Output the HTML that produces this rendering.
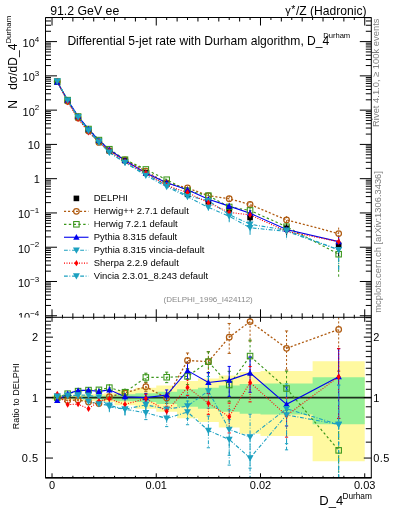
<!DOCTYPE html><html><head><meta charset="utf-8"><style>html,body{margin:0;padding:0;background:#fff;overflow:hidden}svg{display:block;will-change:transform}</style></head><body><svg width="393" height="512" viewBox="0 0 393 512" style="font-family:'Liberation Sans',sans-serif">
<rect width="393" height="512" fill="#fff"/>
<defs><clipPath id="cm"><rect x="45.5" y="17.5" width="325.8" height="299.8"/></clipPath>
<clipPath id="cr"><rect x="45.5" y="317.3" width="325.8" height="160.5"/></clipPath></defs>
<text x="50.2" y="14.8" font-size="12.3">91.2 GeV ee</text>
<text x="366.5" y="14.8" font-size="12.1" text-anchor="end"><tspan font-size="11" dy="-0.8">γ</tspan><tspan font-size="10.5" dy="-0.6" dx="0.6">*</tspan><tspan dy="1.4" dx="0.6">/Z (Hadronic)</tspan></text>
<text x="67.4" y="44.5" font-size="12.1">Differential 5-jet rate with Durham algorithm, D_4</text>
<text x="323.2" y="38.3" font-size="7.6">Durham</text>
<g clip-path="url(#cm)">
<path d="M57.24,81.60 L67.66,101.30 L78.09,118.01 L88.51,131.05 L98.93,142.40 L109.36,150.75 L124.99,159.80 L145.84,171.05 L166.68,183.29 L187.53,187.97 L208.38,195.67 L229.22,198.78 L250.07,204.53 L286.55,219.89 L338.66,233.57" fill="none" stroke="#b05c12" stroke-width="1.3" stroke-dasharray="2.1,1.9"/>
<path d="M57.24,81.60 L67.66,100.13 L78.09,116.50 L88.51,129.02 L98.93,140.08 L109.36,149.20 L124.99,159.68 L145.84,169.46 L166.68,179.72 L187.53,190.68 L208.38,195.67 L229.22,206.96 L250.07,210.41 L286.55,226.75 L338.66,254.21" fill="none" stroke="#3a961a" stroke-width="1.15" stroke-dasharray="2.4,2.4"/>
<path d="M57.24,82.10 L67.66,100.14 L78.09,116.37 L88.51,129.04 L98.93,140.34 L109.36,149.58 L124.99,160.45 L145.84,172.90 L166.68,182.76 L187.53,189.69 L208.38,199.21 L229.22,206.12 L250.07,213.28 L286.55,229.44 L338.66,241.64" fill="none" stroke="#0000ee" stroke-width="1.1"/>
<path d="M57.24,81.38 L67.66,100.45 L78.09,117.16 L88.51,129.93 L98.93,141.28 L109.36,152.47 L124.99,162.59 L145.84,174.14 L166.68,185.17 L187.53,195.75 L208.38,200.65 L229.22,214.56 L250.07,224.24 L286.55,230.20 L338.66,249.78" fill="none" stroke="#1ba0c0" stroke-width="1.1" stroke-dasharray="3.8,1.6,0.9,1.8"/>
<path d="M57.24,80.97 L67.66,101.99 L78.09,118.71 L88.51,132.20 L98.93,142.01 L109.36,151.12 L124.99,161.76 L145.84,173.05 L166.68,185.55 L187.53,192.56 L208.38,202.75 L229.22,212.37 L250.07,214.91 L286.55,231.34 L338.66,241.64" fill="none" stroke="#ff0000" stroke-width="1.1" stroke-dasharray="1,1.5"/>
<path d="M57.24,81.38 L67.66,100.45 L78.09,117.23 L88.51,130.99 L98.93,142.48 L109.36,152.22 L124.99,162.59 L145.84,175.49 L166.68,186.75 L187.53,196.77 L208.38,207.41 L229.22,216.24 L250.07,227.82 L286.55,231.25 L338.66,249.78" fill="none" stroke="#1ba0c0" stroke-width="1.1" stroke-dasharray="3.8,1.6,0.9,1.8"/>
<line x1="145.84" y1="170.12" x2="145.84" y2="172.05" stroke="#b05c12" stroke-width="1" stroke-dasharray="2.1,1.9"/>
<line x1="166.68" y1="182.17" x2="166.68" y2="184.50" stroke="#b05c12" stroke-width="1" stroke-dasharray="2.1,1.9"/>
<line x1="187.53" y1="186.32" x2="187.53" y2="189.82" stroke="#b05c12" stroke-width="1" stroke-dasharray="2.1,1.9"/>
<line x1="208.38" y1="193.51" x2="208.38" y2="198.19" stroke="#b05c12" stroke-width="1" stroke-dasharray="2.1,1.9"/>
<line x1="229.22" y1="195.81" x2="229.22" y2="202.50" stroke="#b05c12" stroke-width="1" stroke-dasharray="2.1,1.9"/>
<line x1="250.07" y1="201.09" x2="250.07" y2="209.01" stroke="#b05c12" stroke-width="1" stroke-dasharray="2.1,1.9"/>
<line x1="286.55" y1="216.14" x2="286.55" y2="224.90" stroke="#b05c12" stroke-width="1" stroke-dasharray="2.1,1.9"/>
<line x1="338.66" y1="227.59" x2="338.66" y2="243.71" stroke="#b05c12" stroke-width="1" stroke-dasharray="2.1,1.9"/>
<line x1="145.84" y1="168.52" x2="145.84" y2="170.46" stroke="#3a961a" stroke-width="1" stroke-dasharray="2.4,2.4"/>
<line x1="166.68" y1="178.61" x2="166.68" y2="180.93" stroke="#3a961a" stroke-width="1" stroke-dasharray="2.4,2.4"/>
<line x1="187.53" y1="189.04" x2="187.53" y2="192.54" stroke="#3a961a" stroke-width="1" stroke-dasharray="2.4,2.4"/>
<line x1="208.38" y1="193.51" x2="208.38" y2="198.19" stroke="#3a961a" stroke-width="1" stroke-dasharray="2.4,2.4"/>
<line x1="229.22" y1="203.98" x2="229.22" y2="210.67" stroke="#3a961a" stroke-width="1" stroke-dasharray="2.4,2.4"/>
<line x1="250.07" y1="206.97" x2="250.07" y2="214.89" stroke="#3a961a" stroke-width="1" stroke-dasharray="2.4,2.4"/>
<line x1="286.55" y1="223.00" x2="286.55" y2="231.76" stroke="#3a961a" stroke-width="1" stroke-dasharray="2.4,2.4"/>
<line x1="338.66" y1="245.54" x2="338.66" y2="277.46" stroke="#3a961a" stroke-width="1" stroke-dasharray="2.4,2.4"/>
<line x1="145.84" y1="171.96" x2="145.84" y2="173.90" stroke="#0000ee" stroke-width="1"/>
<line x1="166.68" y1="181.64" x2="166.68" y2="183.97" stroke="#0000ee" stroke-width="1"/>
<line x1="187.53" y1="188.04" x2="187.53" y2="191.54" stroke="#0000ee" stroke-width="1"/>
<line x1="208.38" y1="197.05" x2="208.38" y2="201.74" stroke="#0000ee" stroke-width="1"/>
<line x1="229.22" y1="203.14" x2="229.22" y2="209.83" stroke="#0000ee" stroke-width="1"/>
<line x1="250.07" y1="209.84" x2="250.07" y2="217.76" stroke="#0000ee" stroke-width="1"/>
<line x1="286.55" y1="225.70" x2="286.55" y2="234.46" stroke="#0000ee" stroke-width="1"/>
<line x1="338.66" y1="235.67" x2="338.66" y2="251.78" stroke="#0000ee" stroke-width="1"/>
<line x1="145.84" y1="172.76" x2="145.84" y2="175.67" stroke="#1ba0c0" stroke-width="1" stroke-dasharray="3.8,1.6,0.9,1.8"/>
<line x1="166.68" y1="183.52" x2="166.68" y2="187.02" stroke="#1ba0c0" stroke-width="1" stroke-dasharray="3.8,1.6,0.9,1.8"/>
<line x1="187.53" y1="193.35" x2="187.53" y2="198.62" stroke="#1ba0c0" stroke-width="1" stroke-dasharray="3.8,1.6,0.9,1.8"/>
<line x1="208.38" y1="197.53" x2="208.38" y2="204.62" stroke="#1ba0c0" stroke-width="1" stroke-dasharray="3.8,1.6,0.9,1.8"/>
<line x1="229.22" y1="210.30" x2="229.22" y2="220.55" stroke="#1ba0c0" stroke-width="1" stroke-dasharray="3.8,1.6,0.9,1.8"/>
<line x1="250.07" y1="219.33" x2="250.07" y2="231.59" stroke="#1ba0c0" stroke-width="1" stroke-dasharray="3.8,1.6,0.9,1.8"/>
<line x1="286.55" y1="224.89" x2="286.55" y2="238.54" stroke="#1ba0c0" stroke-width="1" stroke-dasharray="3.8,1.6,0.9,1.8"/>
<line x1="338.66" y1="241.53" x2="338.66" y2="269.89" stroke="#1ba0c0" stroke-width="1" stroke-dasharray="3.8,1.6,0.9,1.8"/>
<line x1="145.84" y1="172.11" x2="145.84" y2="174.05" stroke="#ff0000" stroke-width="1" stroke-dasharray="1,1.5"/>
<line x1="166.68" y1="184.43" x2="166.68" y2="186.76" stroke="#ff0000" stroke-width="1" stroke-dasharray="1,1.5"/>
<line x1="187.53" y1="190.91" x2="187.53" y2="194.41" stroke="#ff0000" stroke-width="1" stroke-dasharray="1,1.5"/>
<line x1="208.38" y1="200.60" x2="208.38" y2="205.28" stroke="#ff0000" stroke-width="1" stroke-dasharray="1,1.5"/>
<line x1="229.22" y1="209.39" x2="229.22" y2="216.08" stroke="#ff0000" stroke-width="1" stroke-dasharray="1,1.5"/>
<line x1="250.07" y1="211.47" x2="250.07" y2="219.39" stroke="#ff0000" stroke-width="1" stroke-dasharray="1,1.5"/>
<line x1="286.55" y1="227.60" x2="286.55" y2="236.36" stroke="#ff0000" stroke-width="1" stroke-dasharray="1,1.5"/>
<line x1="338.66" y1="235.67" x2="338.66" y2="251.78" stroke="#ff0000" stroke-width="1" stroke-dasharray="1,1.5"/>
<line x1="145.84" y1="174.11" x2="145.84" y2="177.02" stroke="#1ba0c0" stroke-width="1" stroke-dasharray="3.8,1.6,0.9,1.8"/>
<line x1="166.68" y1="185.10" x2="166.68" y2="188.60" stroke="#1ba0c0" stroke-width="1" stroke-dasharray="3.8,1.6,0.9,1.8"/>
<line x1="187.53" y1="194.36" x2="187.53" y2="199.64" stroke="#1ba0c0" stroke-width="1" stroke-dasharray="3.8,1.6,0.9,1.8"/>
<line x1="208.38" y1="204.28" x2="208.38" y2="211.38" stroke="#1ba0c0" stroke-width="1" stroke-dasharray="3.8,1.6,0.9,1.8"/>
<line x1="229.22" y1="211.98" x2="229.22" y2="222.23" stroke="#1ba0c0" stroke-width="1" stroke-dasharray="3.8,1.6,0.9,1.8"/>
<line x1="250.07" y1="222.92" x2="250.07" y2="235.17" stroke="#1ba0c0" stroke-width="1" stroke-dasharray="3.8,1.6,0.9,1.8"/>
<line x1="286.55" y1="225.94" x2="286.55" y2="239.59" stroke="#1ba0c0" stroke-width="1" stroke-dasharray="3.8,1.6,0.9,1.8"/>
<line x1="338.66" y1="241.53" x2="338.66" y2="269.89" stroke="#1ba0c0" stroke-width="1" stroke-dasharray="3.8,1.6,0.9,1.8"/>
<rect x="54.44" y="78.80" width="5.60" height="5.60" fill="#000"/>
<rect x="64.86" y="98.00" width="5.60" height="5.60" fill="#000"/>
<rect x="75.29" y="114.80" width="5.60" height="5.60" fill="#000"/>
<rect x="85.71" y="127.50" width="5.60" height="5.60" fill="#000"/>
<rect x="96.13" y="138.60" width="5.60" height="5.60" fill="#000"/>
<rect x="106.56" y="148.10" width="5.60" height="5.60" fill="#000"/>
<line x1="124.99" y1="159.39" x2="124.99" y2="161.92" stroke="#000" stroke-width="1"/>
<rect x="122.19" y="157.80" width="5.60" height="5.60" fill="#000"/>
<line x1="145.84" y1="171.21" x2="145.84" y2="174.80" stroke="#000" stroke-width="1"/>
<rect x="143.04" y="170.10" width="5.60" height="5.60" fill="#000"/>
<line x1="166.68" y1="181.12" x2="166.68" y2="185.62" stroke="#000" stroke-width="1"/>
<rect x="163.88" y="180.40" width="5.60" height="5.60" fill="#000"/>
<line x1="187.53" y1="191.46" x2="187.53" y2="197.81" stroke="#000" stroke-width="1"/>
<rect x="184.73" y="191.50" width="5.60" height="5.60" fill="#000"/>
<line x1="208.38" y1="198.54" x2="208.38" y2="205.98" stroke="#000" stroke-width="1"/>
<rect x="205.57" y="199.00" width="5.60" height="5.60" fill="#000"/>
<line x1="229.22" y1="205.31" x2="229.22" y2="214.20" stroke="#000" stroke-width="1"/>
<rect x="226.42" y="206.30" width="5.60" height="5.60" fill="#000"/>
<line x1="250.07" y1="213.14" x2="250.07" y2="223.68" stroke="#000" stroke-width="1"/>
<rect x="247.27" y="214.70" width="5.60" height="5.60" fill="#000"/>
<line x1="286.55" y1="223.76" x2="286.55" y2="234.87" stroke="#000" stroke-width="1"/>
<rect x="283.75" y="225.50" width="5.60" height="5.60" fill="#000"/>
<line x1="338.66" y1="238.99" x2="338.66" y2="256.06" stroke="#000" stroke-width="1"/>
<rect x="335.86" y="242.40" width="5.60" height="5.60" fill="#000"/>
<circle cx="57.24" cy="81.60" r="2.80" fill="none" stroke="#b05c12" stroke-width="1.25"/>
<circle cx="67.66" cy="101.30" r="2.80" fill="none" stroke="#b05c12" stroke-width="1.25"/>
<circle cx="78.09" cy="118.01" r="2.80" fill="none" stroke="#b05c12" stroke-width="1.25"/>
<circle cx="88.51" cy="131.05" r="2.80" fill="none" stroke="#b05c12" stroke-width="1.25"/>
<circle cx="98.93" cy="142.40" r="2.80" fill="none" stroke="#b05c12" stroke-width="1.25"/>
<circle cx="109.36" cy="150.75" r="2.80" fill="none" stroke="#b05c12" stroke-width="1.25"/>
<circle cx="124.99" cy="159.80" r="2.80" fill="none" stroke="#b05c12" stroke-width="1.25"/>
<circle cx="145.84" cy="171.05" r="2.80" fill="none" stroke="#b05c12" stroke-width="1.25"/>
<circle cx="166.68" cy="183.29" r="2.80" fill="none" stroke="#b05c12" stroke-width="1.25"/>
<circle cx="187.53" cy="187.97" r="2.80" fill="none" stroke="#b05c12" stroke-width="1.25"/>
<circle cx="208.38" cy="195.67" r="2.80" fill="none" stroke="#b05c12" stroke-width="1.25"/>
<circle cx="229.22" cy="198.78" r="2.80" fill="none" stroke="#b05c12" stroke-width="1.25"/>
<circle cx="250.07" cy="204.53" r="2.80" fill="none" stroke="#b05c12" stroke-width="1.25"/>
<circle cx="286.55" cy="219.89" r="2.80" fill="none" stroke="#b05c12" stroke-width="1.25"/>
<circle cx="338.66" cy="233.57" r="2.80" fill="none" stroke="#b05c12" stroke-width="1.25"/>
<rect x="54.49" y="78.85" width="5.50" height="5.50" fill="none" stroke="#3a961a" stroke-width="1.05"/>
<rect x="64.91" y="97.38" width="5.50" height="5.50" fill="none" stroke="#3a961a" stroke-width="1.05"/>
<rect x="75.34" y="113.75" width="5.50" height="5.50" fill="none" stroke="#3a961a" stroke-width="1.05"/>
<rect x="85.76" y="126.27" width="5.50" height="5.50" fill="none" stroke="#3a961a" stroke-width="1.05"/>
<rect x="96.18" y="137.33" width="5.50" height="5.50" fill="none" stroke="#3a961a" stroke-width="1.05"/>
<rect x="106.61" y="146.45" width="5.50" height="5.50" fill="none" stroke="#3a961a" stroke-width="1.05"/>
<rect x="122.24" y="156.93" width="5.50" height="5.50" fill="none" stroke="#3a961a" stroke-width="1.05"/>
<rect x="143.09" y="166.71" width="5.50" height="5.50" fill="none" stroke="#3a961a" stroke-width="1.05"/>
<rect x="163.93" y="176.97" width="5.50" height="5.50" fill="none" stroke="#3a961a" stroke-width="1.05"/>
<rect x="184.78" y="187.93" width="5.50" height="5.50" fill="none" stroke="#3a961a" stroke-width="1.05"/>
<rect x="205.62" y="192.92" width="5.50" height="5.50" fill="none" stroke="#3a961a" stroke-width="1.05"/>
<rect x="226.47" y="204.21" width="5.50" height="5.50" fill="none" stroke="#3a961a" stroke-width="1.05"/>
<rect x="247.32" y="207.66" width="5.50" height="5.50" fill="none" stroke="#3a961a" stroke-width="1.05"/>
<rect x="283.80" y="224.00" width="5.50" height="5.50" fill="none" stroke="#3a961a" stroke-width="1.05"/>
<rect x="335.91" y="251.46" width="5.50" height="5.50" fill="none" stroke="#3a961a" stroke-width="1.05"/>
<path d="M57.24,78.90 L60.44,84.66 L54.04,84.66Z" fill="#0000ee"/>
<path d="M67.66,96.94 L70.86,102.70 L64.46,102.70Z" fill="#0000ee"/>
<path d="M78.09,113.17 L81.29,118.93 L74.89,118.93Z" fill="#0000ee"/>
<path d="M88.51,125.84 L91.71,131.60 L85.31,131.60Z" fill="#0000ee"/>
<path d="M98.93,137.14 L102.13,142.90 L95.73,142.90Z" fill="#0000ee"/>
<path d="M109.36,146.38 L112.56,152.14 L106.16,152.14Z" fill="#0000ee"/>
<path d="M124.99,157.25 L128.19,163.01 L121.79,163.01Z" fill="#0000ee"/>
<path d="M145.84,169.70 L149.04,175.46 L142.64,175.46Z" fill="#0000ee"/>
<path d="M166.68,179.56 L169.88,185.32 L163.48,185.32Z" fill="#0000ee"/>
<path d="M187.53,186.49 L190.73,192.25 L184.33,192.25Z" fill="#0000ee"/>
<path d="M208.38,196.01 L211.57,201.77 L205.18,201.77Z" fill="#0000ee"/>
<path d="M229.22,202.92 L232.42,208.68 L226.02,208.68Z" fill="#0000ee"/>
<path d="M250.07,210.08 L253.27,215.84 L246.87,215.84Z" fill="#0000ee"/>
<path d="M286.55,226.24 L289.75,232.00 L283.35,232.00Z" fill="#0000ee"/>
<path d="M338.66,238.44 L341.86,244.20 L335.46,244.20Z" fill="#0000ee"/>
<path d="M57.24,84.83 L60.69,78.62 L53.79,78.62Z" fill="#1ba0c0"/>
<path d="M67.66,103.90 L71.11,97.69 L64.21,97.69Z" fill="#1ba0c0"/>
<path d="M78.09,120.61 L81.54,114.40 L74.64,114.40Z" fill="#1ba0c0"/>
<path d="M88.51,133.38 L91.96,127.17 L85.06,127.17Z" fill="#1ba0c0"/>
<path d="M98.93,144.73 L102.38,138.52 L95.48,138.52Z" fill="#1ba0c0"/>
<path d="M109.36,155.92 L112.81,149.71 L105.91,149.71Z" fill="#1ba0c0"/>
<path d="M124.99,166.04 L128.44,159.83 L121.54,159.83Z" fill="#1ba0c0"/>
<path d="M145.84,177.59 L149.29,171.38 L142.39,171.38Z" fill="#1ba0c0"/>
<path d="M166.68,188.62 L170.13,182.41 L163.23,182.41Z" fill="#1ba0c0"/>
<path d="M187.53,199.20 L190.98,192.99 L184.08,192.99Z" fill="#1ba0c0"/>
<path d="M208.38,204.10 L211.82,197.89 L204.93,197.89Z" fill="#1ba0c0"/>
<path d="M229.22,218.01 L232.67,211.80 L225.77,211.80Z" fill="#1ba0c0"/>
<path d="M250.07,227.69 L253.52,221.48 L246.62,221.48Z" fill="#1ba0c0"/>
<path d="M286.55,233.65 L290.00,227.44 L283.10,227.44Z" fill="#1ba0c0"/>
<path d="M338.66,253.23 L342.11,247.02 L335.21,247.02Z" fill="#1ba0c0"/>
<path d="M57.24,77.77 L59.24,80.97 L57.24,84.17 L55.24,80.97Z" fill="#ff0000"/>
<path d="M67.66,98.79 L69.66,101.99 L67.66,105.19 L65.66,101.99Z" fill="#ff0000"/>
<path d="M78.09,115.51 L80.09,118.71 L78.09,121.91 L76.09,118.71Z" fill="#ff0000"/>
<path d="M88.51,129.00 L90.51,132.20 L88.51,135.40 L86.51,132.20Z" fill="#ff0000"/>
<path d="M98.93,138.81 L100.93,142.01 L98.93,145.21 L96.93,142.01Z" fill="#ff0000"/>
<path d="M109.36,147.92 L111.36,151.12 L109.36,154.32 L107.36,151.12Z" fill="#ff0000"/>
<path d="M124.99,158.56 L126.99,161.76 L124.99,164.96 L122.99,161.76Z" fill="#ff0000"/>
<path d="M145.84,169.85 L147.84,173.05 L145.84,176.25 L143.84,173.05Z" fill="#ff0000"/>
<path d="M166.68,182.35 L168.68,185.55 L166.68,188.75 L164.68,185.55Z" fill="#ff0000"/>
<path d="M187.53,189.36 L189.53,192.56 L187.53,195.76 L185.53,192.56Z" fill="#ff0000"/>
<path d="M208.38,199.55 L210.38,202.75 L208.38,205.95 L206.38,202.75Z" fill="#ff0000"/>
<path d="M229.22,209.17 L231.22,212.37 L229.22,215.57 L227.22,212.37Z" fill="#ff0000"/>
<path d="M250.07,211.71 L252.07,214.91 L250.07,218.11 L248.07,214.91Z" fill="#ff0000"/>
<path d="M286.55,228.14 L288.55,231.34 L286.55,234.54 L284.55,231.34Z" fill="#ff0000"/>
<path d="M338.66,238.44 L340.66,241.64 L338.66,244.84 L336.66,241.64Z" fill="#ff0000"/>
<path d="M57.24,84.83 L60.69,78.62 L53.79,78.62Z" fill="#1ba0c0"/>
<path d="M67.66,103.90 L71.11,97.69 L64.21,97.69Z" fill="#1ba0c0"/>
<path d="M78.09,120.68 L81.54,114.47 L74.64,114.47Z" fill="#1ba0c0"/>
<path d="M88.51,134.44 L91.96,128.23 L85.06,128.23Z" fill="#1ba0c0"/>
<path d="M98.93,145.93 L102.38,139.72 L95.48,139.72Z" fill="#1ba0c0"/>
<path d="M109.36,155.67 L112.81,149.46 L105.91,149.46Z" fill="#1ba0c0"/>
<path d="M124.99,166.04 L128.44,159.83 L121.54,159.83Z" fill="#1ba0c0"/>
<path d="M145.84,178.94 L149.29,172.73 L142.39,172.73Z" fill="#1ba0c0"/>
<path d="M166.68,190.20 L170.13,183.99 L163.23,183.99Z" fill="#1ba0c0"/>
<path d="M187.53,200.22 L190.98,194.01 L184.08,194.01Z" fill="#1ba0c0"/>
<path d="M208.38,210.86 L211.82,204.65 L204.93,204.65Z" fill="#1ba0c0"/>
<path d="M229.22,219.69 L232.67,213.48 L225.77,213.48Z" fill="#1ba0c0"/>
<path d="M250.07,231.27 L253.52,225.06 L246.62,225.06Z" fill="#1ba0c0"/>
<path d="M286.55,234.70 L290.00,228.49 L283.10,228.49Z" fill="#1ba0c0"/>
<path d="M338.66,253.23 L342.11,247.02 L335.21,247.02Z" fill="#1ba0c0"/>
</g>
<rect x="73.60" y="195.60" width="5.60" height="5.60" fill="#000"/>
<text x="93.8" y="201.40" font-size="9.45">DELPHI</text>
<line x1="64" y1="211.35" x2="88.5" y2="211.35" stroke="#b05c12" stroke-width="1.3" stroke-dasharray="2.1,1.9"/>
<circle cx="76.40" cy="211.35" r="2.80" fill="none" stroke="#b05c12" stroke-width="1.25"/>
<text x="93.8" y="214.35" font-size="9.45">Herwig++ 2.7.1 default</text>
<line x1="64" y1="224.30" x2="88.5" y2="224.30" stroke="#3a961a" stroke-width="1.15" stroke-dasharray="2.4,2.4"/>
<rect x="73.65" y="221.55" width="5.50" height="5.50" fill="none" stroke="#3a961a" stroke-width="1.05"/>
<text x="93.8" y="227.30" font-size="9.45">Herwig 7.2.1 default</text>
<line x1="64" y1="237.25" x2="88.5" y2="237.25" stroke="#0000ee" stroke-width="1.1"/>
<path d="M76.40,234.05 L79.60,239.81 L73.20,239.81Z" fill="#0000ee"/>
<text x="93.8" y="240.25" font-size="9.45">Pythia 8.315 default</text>
<line x1="64" y1="250.20" x2="88.5" y2="250.20" stroke="#1ba0c0" stroke-width="1.1" stroke-dasharray="3.8,1.6,0.9,1.8"/>
<path d="M76.40,253.65 L79.85,247.44 L72.95,247.44Z" fill="#1ba0c0"/>
<text x="93.8" y="253.20" font-size="9.45">Pythia 8.315 vincia-default</text>
<line x1="64" y1="263.15" x2="88.5" y2="263.15" stroke="#ff0000" stroke-width="1.1" stroke-dasharray="1,1.5"/>
<path d="M76.40,259.95 L78.40,263.15 L76.40,266.35 L74.40,263.15Z" fill="#ff0000"/>
<text x="93.8" y="266.15" font-size="9.45">Sherpa 2.2.9 default</text>
<line x1="64" y1="276.10" x2="88.5" y2="276.10" stroke="#1ba0c0" stroke-width="1.1" stroke-dasharray="3.8,1.6,0.9,1.8"/>
<path d="M76.40,279.55 L79.85,273.34 L72.95,273.34Z" fill="#1ba0c0"/>
<text x="93.8" y="279.10" font-size="9.45">Vincia 2.3.01_8.243 default</text>
<text x="163.5" y="302.3" font-size="8" fill="#8a8a8a">(DELPHI_1996_I424112)</text>
<path d="M45.5,317.3 L45.5,17.5 L371.3,17.5 L371.3,317.3" fill="none" stroke="#000" stroke-width="1"/>
<path d="M45.5,317.33 h5.5 M371.3,317.33 h-5.5 M45.5,315.76 h11.5 M371.3,315.76 h-11.5 M45.5,305.44 h5.5 M371.3,305.44 h-5.5 M45.5,299.41 h5.5 M371.3,299.41 h-5.5 M45.5,295.13 h5.5 M371.3,295.13 h-5.5 M45.5,291.81 h5.5 M371.3,291.81 h-5.5 M45.5,289.09 h5.5 M371.3,289.09 h-5.5 M45.5,286.80 h5.5 M371.3,286.80 h-5.5 M45.5,284.81 h5.5 M371.3,284.81 h-5.5 M45.5,283.06 h5.5 M371.3,283.06 h-5.5 M45.5,281.49 h11.5 M371.3,281.49 h-11.5 M45.5,271.17 h5.5 M371.3,271.17 h-5.5 M45.5,265.14 h5.5 M371.3,265.14 h-5.5 M45.5,260.86 h5.5 M371.3,260.86 h-5.5 M45.5,257.54 h5.5 M371.3,257.54 h-5.5 M45.5,254.82 h5.5 M371.3,254.82 h-5.5 M45.5,252.53 h5.5 M371.3,252.53 h-5.5 M45.5,250.54 h5.5 M371.3,250.54 h-5.5 M45.5,248.79 h5.5 M371.3,248.79 h-5.5 M45.5,247.22 h11.5 M371.3,247.22 h-11.5 M45.5,236.90 h5.5 M371.3,236.90 h-5.5 M45.5,230.87 h5.5 M371.3,230.87 h-5.5 M45.5,226.59 h5.5 M371.3,226.59 h-5.5 M45.5,223.27 h5.5 M371.3,223.27 h-5.5 M45.5,220.55 h5.5 M371.3,220.55 h-5.5 M45.5,218.26 h5.5 M371.3,218.26 h-5.5 M45.5,216.27 h5.5 M371.3,216.27 h-5.5 M45.5,214.52 h5.5 M371.3,214.52 h-5.5 M45.5,212.95 h11.5 M371.3,212.95 h-11.5 M45.5,202.63 h5.5 M371.3,202.63 h-5.5 M45.5,196.60 h5.5 M371.3,196.60 h-5.5 M45.5,192.32 h5.5 M371.3,192.32 h-5.5 M45.5,189.00 h5.5 M371.3,189.00 h-5.5 M45.5,186.28 h5.5 M371.3,186.28 h-5.5 M45.5,183.99 h5.5 M371.3,183.99 h-5.5 M45.5,182.00 h5.5 M371.3,182.00 h-5.5 M45.5,180.25 h5.5 M371.3,180.25 h-5.5 M45.5,178.68 h11.5 M371.3,178.68 h-11.5 M45.5,168.36 h5.5 M371.3,168.36 h-5.5 M45.5,162.33 h5.5 M371.3,162.33 h-5.5 M45.5,158.05 h5.5 M371.3,158.05 h-5.5 M45.5,154.73 h5.5 M371.3,154.73 h-5.5 M45.5,152.01 h5.5 M371.3,152.01 h-5.5 M45.5,149.72 h5.5 M371.3,149.72 h-5.5 M45.5,147.73 h5.5 M371.3,147.73 h-5.5 M45.5,145.98 h5.5 M371.3,145.98 h-5.5 M45.5,144.41 h11.5 M371.3,144.41 h-11.5 M45.5,134.09 h5.5 M371.3,134.09 h-5.5 M45.5,128.06 h5.5 M371.3,128.06 h-5.5 M45.5,123.78 h5.5 M371.3,123.78 h-5.5 M45.5,120.46 h5.5 M371.3,120.46 h-5.5 M45.5,117.74 h5.5 M371.3,117.74 h-5.5 M45.5,115.45 h5.5 M371.3,115.45 h-5.5 M45.5,113.46 h5.5 M371.3,113.46 h-5.5 M45.5,111.71 h5.5 M371.3,111.71 h-5.5 M45.5,110.14 h11.5 M371.3,110.14 h-11.5 M45.5,99.82 h5.5 M371.3,99.82 h-5.5 M45.5,93.79 h5.5 M371.3,93.79 h-5.5 M45.5,89.51 h5.5 M371.3,89.51 h-5.5 M45.5,86.19 h5.5 M371.3,86.19 h-5.5 M45.5,83.47 h5.5 M371.3,83.47 h-5.5 M45.5,81.18 h5.5 M371.3,81.18 h-5.5 M45.5,79.19 h5.5 M371.3,79.19 h-5.5 M45.5,77.44 h5.5 M371.3,77.44 h-5.5 M45.5,75.87 h11.5 M371.3,75.87 h-11.5 M45.5,65.55 h5.5 M371.3,65.55 h-5.5 M45.5,59.52 h5.5 M371.3,59.52 h-5.5 M45.5,55.24 h5.5 M371.3,55.24 h-5.5 M45.5,51.92 h5.5 M371.3,51.92 h-5.5 M45.5,49.20 h5.5 M371.3,49.20 h-5.5 M45.5,46.91 h5.5 M371.3,46.91 h-5.5 M45.5,44.92 h5.5 M371.3,44.92 h-5.5 M45.5,43.17 h5.5 M371.3,43.17 h-5.5 M45.5,41.60 h11.5 M371.3,41.60 h-11.5 M45.5,31.28 h5.5 M371.3,31.28 h-5.5 M45.5,25.25 h5.5 M371.3,25.25 h-5.5 M45.5,20.97 h5.5 M371.3,20.97 h-5.5 M45.5,17.65 h5.5 M371.3,17.65 h-5.5" stroke="#000" stroke-width="1" fill="none"/>
<path d="M52.03,17.5 v8 M52.03,317.3 v-8 M62.45,17.5 v2.5 M62.45,317.3 v-2.5 M72.88,17.5 v4 M72.88,317.3 v-4 M83.30,17.5 v2.5 M83.30,317.3 v-2.5 M93.72,17.5 v4 M93.72,317.3 v-4 M104.15,17.5 v2.5 M104.15,317.3 v-2.5 M114.57,17.5 v4 M114.57,317.3 v-4 M124.99,17.5 v2.5 M124.99,317.3 v-2.5 M135.41,17.5 v4 M135.41,317.3 v-4 M145.84,17.5 v2.5 M145.84,317.3 v-2.5 M156.26,17.5 v8 M156.26,317.3 v-8 M166.68,17.5 v2.5 M166.68,317.3 v-2.5 M177.11,17.5 v4 M177.11,317.3 v-4 M187.53,17.5 v2.5 M187.53,317.3 v-2.5 M197.95,17.5 v4 M197.95,317.3 v-4 M208.38,17.5 v2.5 M208.38,317.3 v-2.5 M218.80,17.5 v4 M218.80,317.3 v-4 M229.22,17.5 v2.5 M229.22,317.3 v-2.5 M239.64,17.5 v4 M239.64,317.3 v-4 M250.07,17.5 v2.5 M250.07,317.3 v-2.5 M260.49,17.5 v8 M260.49,317.3 v-8 M270.91,17.5 v2.5 M270.91,317.3 v-2.5 M281.34,17.5 v4 M281.34,317.3 v-4 M291.76,17.5 v2.5 M291.76,317.3 v-2.5 M302.18,17.5 v4 M302.18,317.3 v-4 M312.61,17.5 v2.5 M312.61,317.3 v-2.5 M323.03,17.5 v4 M323.03,317.3 v-4 M333.45,17.5 v2.5 M333.45,317.3 v-2.5 M343.87,17.5 v4 M343.87,317.3 v-4 M354.30,17.5 v2.5 M354.30,317.3 v-2.5 M364.72,17.5 v8 M364.72,317.3 v-8" stroke="#000" stroke-width="1" fill="none"/>
<text x="39.3" y="47.00" font-size="11" text-anchor="end">10<tspan font-size="8" dy="-5.2">4</tspan></text>
<text x="39.3" y="81.27" font-size="11" text-anchor="end">10<tspan font-size="8" dy="-5.2">3</tspan></text>
<text x="39.3" y="115.54" font-size="11" text-anchor="end">10<tspan font-size="8" dy="-5.2">2</tspan></text>
<text x="40" y="149.11" font-size="11" text-anchor="end">10</text>
<text x="39.8" y="183.18" font-size="11" text-anchor="end">1</text>
<text x="39.3" y="218.35" font-size="11" text-anchor="end">10<tspan font-size="8" dy="-5.2">−1</tspan></text>
<text x="39.3" y="252.62" font-size="11" text-anchor="end">10<tspan font-size="8" dy="-5.2">−2</tspan></text>
<text x="39.3" y="286.89" font-size="11" text-anchor="end">10<tspan font-size="8" dy="-5.2">−3</tspan></text>
<text x="39.3" y="321.16" font-size="11" text-anchor="end">10<tspan font-size="8" dy="-5.2">−4</tspan></text>
<text transform="translate(17,108.8) rotate(-90)" font-size="12">N</text>
<text transform="translate(17,89.8) rotate(-90)" font-size="12">dσ/dD_4</text>
<text transform="translate(11.3,43.6) rotate(-90)" font-size="7.8">Durham</text>
<text transform="translate(379.4,126.9) rotate(-90)" font-size="9.4" fill="#808080">Rivet 4.1.0, ≥ 100k events</text>
<text transform="translate(380.9,312.8) rotate(-90)" font-size="9.4" fill="#808080">mcplots.cern.ch [arXiv:1306.3436]</text>
<rect x="0" y="317.6" width="393" height="194.4" fill="#fff"/>
<path d="M52.03,395.45 L62.45,395.45 L62.45,395.45 L72.88,395.45 L72.88,395.02 L83.30,395.02 L83.30,394.35 L93.72,394.35 L93.72,394.01 L104.15,394.01 L104.15,393.35 L114.57,393.35 L114.57,390.49 L135.41,390.49 L135.41,387.72 L156.26,387.72 L156.26,385.41 L177.11,385.41 L177.11,380.98 L197.95,380.98 L197.95,378.49 L218.80,378.49 L218.80,375.39 L239.64,375.39 L239.64,372.08 L260.49,372.08 L260.49,370.98 L312.61,370.98 L312.61,361.20 L364.72,361.20 L364.72,461.24 L312.61,461.24 L312.61,436.11 L260.49,436.11 L260.49,433.84 L239.64,433.84 L239.64,427.47 L218.80,427.47 L218.80,422.11 L197.95,422.11 L197.95,418.16 L177.11,418.16 L177.11,411.77 L156.26,411.77 L156.26,408.75 L135.41,408.75 L135.41,405.35 L114.57,405.35 L114.57,402.07 L104.15,402.07 L104.15,401.34 L93.72,401.34 L93.72,400.98 L83.30,400.98 L83.30,400.26 L72.88,400.26 L72.88,399.81 L62.45,399.81 L62.45,399.81 L52.03,399.81Z" fill="#fff9a0"/>
<path d="M52.03,396.73 L62.45,396.73 L62.45,396.56 L72.88,396.56 L72.88,396.39 L83.30,396.39 L83.30,396.13 L93.72,396.13 L93.72,395.87 L104.15,395.87 L104.15,395.53 L114.57,395.53 L114.57,394.18 L135.41,394.18 L135.41,393.35 L156.26,393.35 L156.26,391.70 L177.11,391.70 L177.11,389.29 L197.95,389.29 L197.95,387.72 L218.80,387.72 L218.80,385.41 L239.64,385.41 L239.64,383.91 L260.49,383.91 L260.49,383.46 L312.61,383.46 L312.61,377.24 L364.72,377.24 L364.72,424.21 L312.61,424.21 L312.61,414.48 L260.49,414.48 L260.49,413.85 L239.64,413.85 L239.64,411.77 L218.80,411.77 L218.80,408.75 L197.95,408.75 L197.95,406.79 L177.11,406.79 L177.11,403.93 L156.26,403.93 L156.26,402.07 L135.41,402.07 L135.41,401.16 L114.57,401.16 L114.57,399.72 L104.15,399.72 L104.15,399.36 L93.72,399.36 L93.72,399.10 L83.30,399.10 L83.30,398.83 L72.88,398.83 L72.88,398.65 L62.45,398.65 L62.45,398.48 L52.03,398.48Z" fill="#96f096"/>
<line x1="45.5" y1="397.65" x2="371.3" y2="397.65" stroke="#000" stroke-opacity="0.8" stroke-width="1.6"/>
<g clip-path="url(#cr)">
<path d="M57.24,397.60 L67.66,400.53 L78.09,399.99 L88.51,401.98 L98.93,403.46 L109.36,396.73 L124.99,392.93 L145.84,386.79 L166.68,398.12 L187.53,360.51 L208.38,361.66 L229.22,337.15 L250.07,321.62 L286.55,348.30 L338.66,329.44" fill="none" stroke="#b05c12" stroke-width="1.3" stroke-dasharray="2.1,1.9"/>
<path d="M57.24,397.60 L67.66,393.68 L78.09,391.13 L88.51,390.08 L98.93,389.85 L109.36,387.64 L124.99,392.19 L145.84,377.45 L166.68,377.24 L187.53,376.41 L208.38,361.66 L229.22,385.03 L250.07,356.07 L286.55,388.50 L338.66,450.37" fill="none" stroke="#3a961a" stroke-width="1.15" stroke-dasharray="2.4,2.4"/>
<path d="M57.24,400.53 L67.66,393.76 L78.09,390.41 L88.51,390.24 L98.93,391.37 L109.36,389.85 L124.99,396.73 L145.84,397.60 L166.68,395.02 L187.53,370.59 L208.38,382.43 L229.22,380.12 L250.07,372.86 L286.55,404.30 L338.66,376.76" fill="none" stroke="#0000ee" stroke-width="1.1"/>
<path d="M57.24,396.30 L67.66,395.53 L78.09,395.02 L88.51,395.45 L98.93,396.91 L109.36,406.79 L124.99,409.24 L145.84,404.87 L166.68,409.15 L187.53,406.11 L208.38,390.89 L229.22,429.58 L250.07,437.07 L286.55,408.75 L338.66,424.45" fill="none" stroke="#1ba0c0" stroke-width="1.1" stroke-dasharray="3.8,1.6,0.9,1.8"/>
<path d="M57.24,393.93 L67.66,404.59 L78.09,404.12 L88.51,408.75 L98.93,401.16 L109.36,398.92 L124.99,404.40 L145.84,398.48 L166.68,411.36 L187.53,387.41 L208.38,403.18 L229.22,416.73 L250.07,382.43 L286.55,415.44 L338.66,376.76" fill="none" stroke="#ff0000" stroke-width="1.1" stroke-dasharray="1,1.5"/>
<path d="M57.24,396.30 L67.66,395.53 L78.09,395.45 L88.51,401.62 L98.93,403.93 L109.36,405.35 L124.99,409.24 L145.84,412.80 L166.68,418.38 L187.53,412.08 L208.38,430.47 L229.22,439.43 L250.07,458.05 L286.55,414.91 L338.66,424.45" fill="none" stroke="#1ba0c0" stroke-width="1.1" stroke-dasharray="3.8,1.6,0.9,1.8"/>
<line x1="57.24" y1="396.91" x2="57.24" y2="398.30" stroke="#b05c12" stroke-width="1" stroke-dasharray="2.1,1.9"/>
<line x1="67.66" y1="399.66" x2="67.66" y2="401.40" stroke="#b05c12" stroke-width="1" stroke-dasharray="2.1,1.9"/>
<line x1="78.09" y1="398.86" x2="78.09" y2="401.13" stroke="#b05c12" stroke-width="1" stroke-dasharray="2.1,1.9"/>
<line x1="88.51" y1="400.51" x2="88.51" y2="403.48" stroke="#b05c12" stroke-width="1" stroke-dasharray="2.1,1.9"/>
<line x1="98.93" y1="401.05" x2="98.93" y2="405.94" stroke="#b05c12" stroke-width="1" stroke-dasharray="2.1,1.9"/>
<line x1="109.36" y1="393.31" x2="109.36" y2="400.29" stroke="#b05c12" stroke-width="1" stroke-dasharray="2.1,1.9"/>
<line x1="124.99" y1="389.09" x2="124.99" y2="396.95" stroke="#b05c12" stroke-width="1" stroke-dasharray="2.1,1.9"/>
<line x1="145.84" y1="382.53" x2="145.84" y2="391.26" stroke="#b05c12" stroke-width="1" stroke-dasharray="2.1,1.9"/>
<path d="M144.24,382.53 h3.2 M144.24,391.26 h3.2" stroke="#b05c12" stroke-width="1"/>
<line x1="166.68" y1="393.04" x2="166.68" y2="403.52" stroke="#b05c12" stroke-width="1" stroke-dasharray="2.1,1.9"/>
<path d="M165.08,393.04 h3.2 M165.08,403.52 h3.2" stroke="#b05c12" stroke-width="1"/>
<line x1="187.53" y1="353.00" x2="187.53" y2="368.74" stroke="#b05c12" stroke-width="1" stroke-dasharray="2.1,1.9"/>
<path d="M185.93,353.00 h3.2 M185.93,368.74 h3.2" stroke="#b05c12" stroke-width="1"/>
<line x1="208.38" y1="351.78" x2="208.38" y2="372.81" stroke="#b05c12" stroke-width="1" stroke-dasharray="2.1,1.9"/>
<path d="M206.78,351.78 h3.2 M206.78,372.81 h3.2" stroke="#b05c12" stroke-width="1"/>
<line x1="229.22" y1="323.46" x2="229.22" y2="353.40" stroke="#b05c12" stroke-width="1" stroke-dasharray="2.1,1.9"/>
<path d="M227.62,323.46 h3.2 M227.62,353.40 h3.2" stroke="#b05c12" stroke-width="1"/>
<line x1="250.07" y1="305.72" x2="250.07" y2="341.08" stroke="#b05c12" stroke-width="1" stroke-dasharray="2.1,1.9"/>
<path d="M248.47,305.72 h3.2 M248.47,341.08 h3.2" stroke="#b05c12" stroke-width="1"/>
<line x1="286.55" y1="330.96" x2="286.55" y2="369.97" stroke="#b05c12" stroke-width="1" stroke-dasharray="2.1,1.9"/>
<path d="M284.95,330.96 h3.2 M284.95,369.97 h3.2" stroke="#b05c12" stroke-width="1"/>
<line x1="338.66" y1="301.35" x2="338.66" y2="371.13" stroke="#b05c12" stroke-width="1" stroke-dasharray="2.1,1.9"/>
<path d="M337.06,301.35 h3.2 M337.06,371.13 h3.2" stroke="#b05c12" stroke-width="1"/>
<line x1="57.24" y1="396.91" x2="57.24" y2="398.30" stroke="#3a961a" stroke-width="1" stroke-dasharray="2.4,2.4"/>
<line x1="67.66" y1="392.81" x2="67.66" y2="394.55" stroke="#3a961a" stroke-width="1" stroke-dasharray="2.4,2.4"/>
<line x1="78.09" y1="390.00" x2="78.09" y2="392.27" stroke="#3a961a" stroke-width="1" stroke-dasharray="2.4,2.4"/>
<line x1="88.51" y1="388.61" x2="88.51" y2="391.58" stroke="#3a961a" stroke-width="1" stroke-dasharray="2.4,2.4"/>
<line x1="98.93" y1="387.44" x2="98.93" y2="392.32" stroke="#3a961a" stroke-width="1" stroke-dasharray="2.4,2.4"/>
<line x1="109.36" y1="384.22" x2="109.36" y2="391.20" stroke="#3a961a" stroke-width="1" stroke-dasharray="2.4,2.4"/>
<line x1="124.99" y1="388.35" x2="124.99" y2="396.21" stroke="#3a961a" stroke-width="1" stroke-dasharray="2.4,2.4"/>
<line x1="145.84" y1="373.19" x2="145.84" y2="381.92" stroke="#3a961a" stroke-width="1" stroke-dasharray="2.4,2.4"/>
<path d="M144.24,373.19 h3.2 M144.24,381.92 h3.2" stroke="#3a961a" stroke-width="1"/>
<line x1="166.68" y1="372.16" x2="166.68" y2="382.63" stroke="#3a961a" stroke-width="1" stroke-dasharray="2.4,2.4"/>
<path d="M165.08,372.16 h3.2 M165.08,382.63 h3.2" stroke="#3a961a" stroke-width="1"/>
<line x1="187.53" y1="368.90" x2="187.53" y2="384.64" stroke="#3a961a" stroke-width="1" stroke-dasharray="2.4,2.4"/>
<path d="M185.93,368.90 h3.2 M185.93,384.64 h3.2" stroke="#3a961a" stroke-width="1"/>
<line x1="208.38" y1="351.78" x2="208.38" y2="372.81" stroke="#3a961a" stroke-width="1" stroke-dasharray="2.4,2.4"/>
<path d="M206.78,351.78 h3.2 M206.78,372.81 h3.2" stroke="#3a961a" stroke-width="1"/>
<line x1="229.22" y1="371.34" x2="229.22" y2="401.28" stroke="#3a961a" stroke-width="1" stroke-dasharray="2.4,2.4"/>
<path d="M227.62,371.34 h3.2 M227.62,401.28 h3.2" stroke="#3a961a" stroke-width="1"/>
<line x1="250.07" y1="340.17" x2="250.07" y2="375.53" stroke="#3a961a" stroke-width="1" stroke-dasharray="2.4,2.4"/>
<path d="M248.47,340.17 h3.2 M248.47,375.53 h3.2" stroke="#3a961a" stroke-width="1"/>
<line x1="286.55" y1="371.16" x2="286.55" y2="410.17" stroke="#3a961a" stroke-width="1" stroke-dasharray="2.4,2.4"/>
<path d="M284.95,371.16 h3.2 M284.95,410.17 h3.2" stroke="#3a961a" stroke-width="1"/>
<line x1="338.66" y1="422.28" x2="338.66" y2="492.06" stroke="#3a961a" stroke-width="1" stroke-dasharray="2.4,2.4"/>
<path d="M337.06,422.28 h3.2 M337.06,492.06 h3.2" stroke="#3a961a" stroke-width="1"/>
<line x1="57.24" y1="399.83" x2="57.24" y2="401.23" stroke="#0000ee" stroke-width="1"/>
<line x1="67.66" y1="392.89" x2="67.66" y2="394.64" stroke="#0000ee" stroke-width="1"/>
<line x1="78.09" y1="389.28" x2="78.09" y2="391.55" stroke="#0000ee" stroke-width="1"/>
<line x1="88.51" y1="388.77" x2="88.51" y2="391.74" stroke="#0000ee" stroke-width="1"/>
<line x1="98.93" y1="388.97" x2="98.93" y2="393.85" stroke="#0000ee" stroke-width="1"/>
<line x1="109.36" y1="386.42" x2="109.36" y2="393.41" stroke="#0000ee" stroke-width="1"/>
<line x1="124.99" y1="392.89" x2="124.99" y2="400.75" stroke="#0000ee" stroke-width="1"/>
<line x1="145.84" y1="393.35" x2="145.84" y2="402.07" stroke="#0000ee" stroke-width="1"/>
<path d="M144.24,393.35 h3.2 M144.24,402.07 h3.2" stroke="#0000ee" stroke-width="1"/>
<line x1="166.68" y1="389.94" x2="166.68" y2="400.42" stroke="#0000ee" stroke-width="1"/>
<path d="M165.08,389.94 h3.2 M165.08,400.42 h3.2" stroke="#0000ee" stroke-width="1"/>
<line x1="187.53" y1="363.08" x2="187.53" y2="378.82" stroke="#0000ee" stroke-width="1"/>
<path d="M185.93,363.08 h3.2 M185.93,378.82 h3.2" stroke="#0000ee" stroke-width="1"/>
<line x1="208.38" y1="372.55" x2="208.38" y2="393.58" stroke="#0000ee" stroke-width="1"/>
<path d="M206.78,372.55 h3.2 M206.78,393.58 h3.2" stroke="#0000ee" stroke-width="1"/>
<line x1="229.22" y1="366.42" x2="229.22" y2="396.37" stroke="#0000ee" stroke-width="1"/>
<path d="M227.62,366.42 h3.2 M227.62,396.37 h3.2" stroke="#0000ee" stroke-width="1"/>
<line x1="250.07" y1="356.96" x2="250.07" y2="392.32" stroke="#0000ee" stroke-width="1"/>
<path d="M248.47,356.96 h3.2 M248.47,392.32 h3.2" stroke="#0000ee" stroke-width="1"/>
<line x1="286.55" y1="386.96" x2="286.55" y2="425.97" stroke="#0000ee" stroke-width="1"/>
<path d="M284.95,386.96 h3.2 M284.95,425.97 h3.2" stroke="#0000ee" stroke-width="1"/>
<line x1="338.66" y1="348.67" x2="338.66" y2="418.44" stroke="#0000ee" stroke-width="1"/>
<path d="M337.06,348.67 h3.2 M337.06,418.44 h3.2" stroke="#0000ee" stroke-width="1"/>
<line x1="57.24" y1="395.26" x2="57.24" y2="397.35" stroke="#1ba0c0" stroke-width="1" stroke-dasharray="3.8,1.6,0.9,1.8"/>
<line x1="67.66" y1="394.23" x2="67.66" y2="396.85" stroke="#1ba0c0" stroke-width="1" stroke-dasharray="3.8,1.6,0.9,1.8"/>
<line x1="78.09" y1="393.34" x2="78.09" y2="396.74" stroke="#1ba0c0" stroke-width="1" stroke-dasharray="3.8,1.6,0.9,1.8"/>
<line x1="88.51" y1="393.25" x2="88.51" y2="397.70" stroke="#1ba0c0" stroke-width="1" stroke-dasharray="3.8,1.6,0.9,1.8"/>
<line x1="98.93" y1="393.32" x2="98.93" y2="400.65" stroke="#1ba0c0" stroke-width="1" stroke-dasharray="3.8,1.6,0.9,1.8"/>
<line x1="109.36" y1="401.71" x2="109.36" y2="412.18" stroke="#1ba0c0" stroke-width="1" stroke-dasharray="3.8,1.6,0.9,1.8"/>
<line x1="124.99" y1="403.55" x2="124.99" y2="415.34" stroke="#1ba0c0" stroke-width="1" stroke-dasharray="3.8,1.6,0.9,1.8"/>
<line x1="145.84" y1="398.56" x2="145.84" y2="411.67" stroke="#1ba0c0" stroke-width="1" stroke-dasharray="3.8,1.6,0.9,1.8"/>
<path d="M144.24,398.56 h3.2 M144.24,411.67 h3.2" stroke="#1ba0c0" stroke-width="1"/>
<line x1="166.68" y1="401.63" x2="166.68" y2="417.37" stroke="#1ba0c0" stroke-width="1" stroke-dasharray="3.8,1.6,0.9,1.8"/>
<path d="M165.08,401.63 h3.2 M165.08,417.37 h3.2" stroke="#1ba0c0" stroke-width="1"/>
<line x1="187.53" y1="395.07" x2="187.53" y2="418.76" stroke="#1ba0c0" stroke-width="1" stroke-dasharray="3.8,1.6,0.9,1.8"/>
<path d="M185.93,395.07 h3.2 M185.93,418.76 h3.2" stroke="#1ba0c0" stroke-width="1"/>
<line x1="208.38" y1="376.45" x2="208.38" y2="408.19" stroke="#1ba0c0" stroke-width="1" stroke-dasharray="3.8,1.6,0.9,1.8"/>
<path d="M206.78,376.45 h3.2 M206.78,408.19 h3.2" stroke="#1ba0c0" stroke-width="1"/>
<line x1="229.22" y1="409.77" x2="229.22" y2="455.25" stroke="#1ba0c0" stroke-width="1" stroke-dasharray="3.8,1.6,0.9,1.8"/>
<path d="M227.62,409.77 h3.2 M227.62,455.25 h3.2" stroke="#1ba0c0" stroke-width="1"/>
<line x1="250.07" y1="414.19" x2="250.07" y2="468.17" stroke="#1ba0c0" stroke-width="1" stroke-dasharray="3.8,1.6,0.9,1.8"/>
<path d="M248.47,414.19 h3.2 M248.47,468.17 h3.2" stroke="#1ba0c0" stroke-width="1"/>
<line x1="286.55" y1="383.88" x2="286.55" y2="443.67" stroke="#1ba0c0" stroke-width="1" stroke-dasharray="3.8,1.6,0.9,1.8"/>
<path d="M284.95,383.88 h3.2 M284.95,443.67 h3.2" stroke="#1ba0c0" stroke-width="1"/>
<line x1="338.66" y1="385.11" x2="338.66" y2="498.05" stroke="#1ba0c0" stroke-width="1" stroke-dasharray="3.8,1.6,0.9,1.8"/>
<path d="M337.06,385.11 h3.2 M337.06,498.05 h3.2" stroke="#1ba0c0" stroke-width="1"/>
<line x1="57.24" y1="393.23" x2="57.24" y2="394.63" stroke="#ff0000" stroke-width="1" stroke-dasharray="1,1.5"/>
<line x1="67.66" y1="403.72" x2="67.66" y2="405.46" stroke="#ff0000" stroke-width="1" stroke-dasharray="1,1.5"/>
<line x1="78.09" y1="402.99" x2="78.09" y2="405.26" stroke="#ff0000" stroke-width="1" stroke-dasharray="1,1.5"/>
<line x1="88.51" y1="407.28" x2="88.51" y2="410.24" stroke="#ff0000" stroke-width="1" stroke-dasharray="1,1.5"/>
<line x1="98.93" y1="398.75" x2="98.93" y2="403.64" stroke="#ff0000" stroke-width="1" stroke-dasharray="1,1.5"/>
<line x1="109.36" y1="395.50" x2="109.36" y2="402.48" stroke="#ff0000" stroke-width="1" stroke-dasharray="1,1.5"/>
<line x1="124.99" y1="400.56" x2="124.99" y2="408.41" stroke="#ff0000" stroke-width="1" stroke-dasharray="1,1.5"/>
<line x1="145.84" y1="394.22" x2="145.84" y2="402.95" stroke="#ff0000" stroke-width="1" stroke-dasharray="1,1.5"/>
<path d="M144.24,394.22 h3.2 M144.24,402.95 h3.2" stroke="#ff0000" stroke-width="1"/>
<line x1="166.68" y1="406.28" x2="166.68" y2="416.76" stroke="#ff0000" stroke-width="1" stroke-dasharray="1,1.5"/>
<path d="M165.08,406.28 h3.2 M165.08,416.76 h3.2" stroke="#ff0000" stroke-width="1"/>
<line x1="187.53" y1="379.89" x2="187.53" y2="395.63" stroke="#ff0000" stroke-width="1" stroke-dasharray="1,1.5"/>
<path d="M185.93,379.89 h3.2 M185.93,395.63 h3.2" stroke="#ff0000" stroke-width="1"/>
<line x1="208.38" y1="393.30" x2="208.38" y2="414.33" stroke="#ff0000" stroke-width="1" stroke-dasharray="1,1.5"/>
<path d="M206.78,393.30 h3.2 M206.78,414.33 h3.2" stroke="#ff0000" stroke-width="1"/>
<line x1="229.22" y1="403.04" x2="229.22" y2="432.98" stroke="#ff0000" stroke-width="1" stroke-dasharray="1,1.5"/>
<path d="M227.62,403.04 h3.2 M227.62,432.98 h3.2" stroke="#ff0000" stroke-width="1"/>
<line x1="250.07" y1="366.53" x2="250.07" y2="401.89" stroke="#ff0000" stroke-width="1" stroke-dasharray="1,1.5"/>
<path d="M248.47,366.53 h3.2 M248.47,401.89 h3.2" stroke="#ff0000" stroke-width="1"/>
<line x1="286.55" y1="398.10" x2="286.55" y2="437.11" stroke="#ff0000" stroke-width="1" stroke-dasharray="1,1.5"/>
<path d="M284.95,398.10 h3.2 M284.95,437.11 h3.2" stroke="#ff0000" stroke-width="1"/>
<line x1="338.66" y1="348.67" x2="338.66" y2="418.44" stroke="#ff0000" stroke-width="1" stroke-dasharray="1,1.5"/>
<path d="M337.06,348.67 h3.2 M337.06,418.44 h3.2" stroke="#ff0000" stroke-width="1"/>
<line x1="57.24" y1="395.26" x2="57.24" y2="397.35" stroke="#1ba0c0" stroke-width="1" stroke-dasharray="3.8,1.6,0.9,1.8"/>
<line x1="67.66" y1="394.23" x2="67.66" y2="396.85" stroke="#1ba0c0" stroke-width="1" stroke-dasharray="3.8,1.6,0.9,1.8"/>
<line x1="78.09" y1="393.76" x2="78.09" y2="397.16" stroke="#1ba0c0" stroke-width="1" stroke-dasharray="3.8,1.6,0.9,1.8"/>
<line x1="88.51" y1="399.42" x2="88.51" y2="403.87" stroke="#1ba0c0" stroke-width="1" stroke-dasharray="3.8,1.6,0.9,1.8"/>
<line x1="98.93" y1="400.34" x2="98.93" y2="407.67" stroke="#1ba0c0" stroke-width="1" stroke-dasharray="3.8,1.6,0.9,1.8"/>
<line x1="109.36" y1="400.27" x2="109.36" y2="410.74" stroke="#1ba0c0" stroke-width="1" stroke-dasharray="3.8,1.6,0.9,1.8"/>
<line x1="124.99" y1="403.55" x2="124.99" y2="415.34" stroke="#1ba0c0" stroke-width="1" stroke-dasharray="3.8,1.6,0.9,1.8"/>
<line x1="145.84" y1="406.50" x2="145.84" y2="419.60" stroke="#1ba0c0" stroke-width="1" stroke-dasharray="3.8,1.6,0.9,1.8"/>
<path d="M144.24,406.50 h3.2 M144.24,419.60 h3.2" stroke="#1ba0c0" stroke-width="1"/>
<line x1="166.68" y1="410.86" x2="166.68" y2="426.60" stroke="#1ba0c0" stroke-width="1" stroke-dasharray="3.8,1.6,0.9,1.8"/>
<path d="M165.08,410.86 h3.2 M165.08,426.60 h3.2" stroke="#1ba0c0" stroke-width="1"/>
<line x1="187.53" y1="401.04" x2="187.53" y2="424.73" stroke="#1ba0c0" stroke-width="1" stroke-dasharray="3.8,1.6,0.9,1.8"/>
<path d="M185.93,401.04 h3.2 M185.93,424.73 h3.2" stroke="#1ba0c0" stroke-width="1"/>
<line x1="208.38" y1="416.03" x2="208.38" y2="447.77" stroke="#1ba0c0" stroke-width="1" stroke-dasharray="3.8,1.6,0.9,1.8"/>
<path d="M206.78,416.03 h3.2 M206.78,447.77 h3.2" stroke="#1ba0c0" stroke-width="1"/>
<line x1="229.22" y1="419.62" x2="229.22" y2="465.10" stroke="#1ba0c0" stroke-width="1" stroke-dasharray="3.8,1.6,0.9,1.8"/>
<path d="M227.62,419.62 h3.2 M227.62,465.10 h3.2" stroke="#1ba0c0" stroke-width="1"/>
<line x1="250.07" y1="435.17" x2="250.07" y2="489.15" stroke="#1ba0c0" stroke-width="1" stroke-dasharray="3.8,1.6,0.9,1.8"/>
<path d="M248.47,435.17 h3.2 M248.47,489.15 h3.2" stroke="#1ba0c0" stroke-width="1"/>
<line x1="286.55" y1="390.04" x2="286.55" y2="449.83" stroke="#1ba0c0" stroke-width="1" stroke-dasharray="3.8,1.6,0.9,1.8"/>
<path d="M284.95,390.04 h3.2 M284.95,449.83 h3.2" stroke="#1ba0c0" stroke-width="1"/>
<line x1="338.66" y1="385.11" x2="338.66" y2="498.05" stroke="#1ba0c0" stroke-width="1" stroke-dasharray="3.8,1.6,0.9,1.8"/>
<path d="M337.06,385.11 h3.2 M337.06,498.05 h3.2" stroke="#1ba0c0" stroke-width="1"/>
<circle cx="57.24" cy="397.60" r="2.80" fill="none" stroke="#b05c12" stroke-width="1.25"/>
<circle cx="67.66" cy="400.53" r="2.80" fill="none" stroke="#b05c12" stroke-width="1.25"/>
<circle cx="78.09" cy="399.99" r="2.80" fill="none" stroke="#b05c12" stroke-width="1.25"/>
<circle cx="88.51" cy="401.98" r="2.80" fill="none" stroke="#b05c12" stroke-width="1.25"/>
<circle cx="98.93" cy="403.46" r="2.80" fill="none" stroke="#b05c12" stroke-width="1.25"/>
<circle cx="109.36" cy="396.73" r="2.80" fill="none" stroke="#b05c12" stroke-width="1.25"/>
<circle cx="124.99" cy="392.93" r="2.80" fill="none" stroke="#b05c12" stroke-width="1.25"/>
<circle cx="145.84" cy="386.79" r="2.80" fill="none" stroke="#b05c12" stroke-width="1.25"/>
<circle cx="166.68" cy="398.12" r="2.80" fill="none" stroke="#b05c12" stroke-width="1.25"/>
<circle cx="187.53" cy="360.51" r="2.80" fill="none" stroke="#b05c12" stroke-width="1.25"/>
<circle cx="208.38" cy="361.66" r="2.80" fill="none" stroke="#b05c12" stroke-width="1.25"/>
<circle cx="229.22" cy="337.15" r="2.80" fill="none" stroke="#b05c12" stroke-width="1.25"/>
<circle cx="250.07" cy="321.62" r="2.80" fill="none" stroke="#b05c12" stroke-width="1.25"/>
<circle cx="286.55" cy="348.30" r="2.80" fill="none" stroke="#b05c12" stroke-width="1.25"/>
<circle cx="338.66" cy="329.44" r="2.80" fill="none" stroke="#b05c12" stroke-width="1.25"/>
<rect x="54.49" y="394.85" width="5.50" height="5.50" fill="none" stroke="#3a961a" stroke-width="1.05"/>
<rect x="64.91" y="390.93" width="5.50" height="5.50" fill="none" stroke="#3a961a" stroke-width="1.05"/>
<rect x="75.34" y="388.38" width="5.50" height="5.50" fill="none" stroke="#3a961a" stroke-width="1.05"/>
<rect x="85.76" y="387.33" width="5.50" height="5.50" fill="none" stroke="#3a961a" stroke-width="1.05"/>
<rect x="96.18" y="387.10" width="5.50" height="5.50" fill="none" stroke="#3a961a" stroke-width="1.05"/>
<rect x="106.61" y="384.89" width="5.50" height="5.50" fill="none" stroke="#3a961a" stroke-width="1.05"/>
<rect x="122.24" y="389.44" width="5.50" height="5.50" fill="none" stroke="#3a961a" stroke-width="1.05"/>
<rect x="143.09" y="374.70" width="5.50" height="5.50" fill="none" stroke="#3a961a" stroke-width="1.05"/>
<rect x="163.93" y="374.49" width="5.50" height="5.50" fill="none" stroke="#3a961a" stroke-width="1.05"/>
<rect x="184.78" y="373.66" width="5.50" height="5.50" fill="none" stroke="#3a961a" stroke-width="1.05"/>
<rect x="205.62" y="358.91" width="5.50" height="5.50" fill="none" stroke="#3a961a" stroke-width="1.05"/>
<rect x="226.47" y="382.28" width="5.50" height="5.50" fill="none" stroke="#3a961a" stroke-width="1.05"/>
<rect x="247.32" y="353.32" width="5.50" height="5.50" fill="none" stroke="#3a961a" stroke-width="1.05"/>
<rect x="283.80" y="385.75" width="5.50" height="5.50" fill="none" stroke="#3a961a" stroke-width="1.05"/>
<rect x="335.91" y="447.62" width="5.50" height="5.50" fill="none" stroke="#3a961a" stroke-width="1.05"/>
<path d="M57.24,397.33 L60.44,403.09 L54.04,403.09Z" fill="#0000ee"/>
<path d="M67.66,390.56 L70.86,396.32 L64.46,396.32Z" fill="#0000ee"/>
<path d="M78.09,387.21 L81.29,392.97 L74.89,392.97Z" fill="#0000ee"/>
<path d="M88.51,387.04 L91.71,392.80 L85.31,392.80Z" fill="#0000ee"/>
<path d="M98.93,388.17 L102.13,393.93 L95.73,393.93Z" fill="#0000ee"/>
<path d="M109.36,386.65 L112.56,392.41 L106.16,392.41Z" fill="#0000ee"/>
<path d="M124.99,393.53 L128.19,399.29 L121.79,399.29Z" fill="#0000ee"/>
<path d="M145.84,394.40 L149.04,400.16 L142.64,400.16Z" fill="#0000ee"/>
<path d="M166.68,391.82 L169.88,397.58 L163.48,397.58Z" fill="#0000ee"/>
<path d="M187.53,367.39 L190.73,373.15 L184.33,373.15Z" fill="#0000ee"/>
<path d="M208.38,379.23 L211.57,384.99 L205.18,384.99Z" fill="#0000ee"/>
<path d="M229.22,376.92 L232.42,382.68 L226.02,382.68Z" fill="#0000ee"/>
<path d="M250.07,369.66 L253.27,375.42 L246.87,375.42Z" fill="#0000ee"/>
<path d="M286.55,401.10 L289.75,406.86 L283.35,406.86Z" fill="#0000ee"/>
<path d="M338.66,373.56 L341.86,379.32 L335.46,379.32Z" fill="#0000ee"/>
<path d="M57.24,399.75 L60.69,393.54 L53.79,393.54Z" fill="#1ba0c0"/>
<path d="M67.66,398.98 L71.11,392.77 L64.21,392.77Z" fill="#1ba0c0"/>
<path d="M78.09,398.47 L81.54,392.26 L74.64,392.26Z" fill="#1ba0c0"/>
<path d="M88.51,398.90 L91.96,392.69 L85.06,392.69Z" fill="#1ba0c0"/>
<path d="M98.93,400.36 L102.38,394.15 L95.48,394.15Z" fill="#1ba0c0"/>
<path d="M109.36,410.24 L112.81,404.03 L105.91,404.03Z" fill="#1ba0c0"/>
<path d="M124.99,412.69 L128.44,406.48 L121.54,406.48Z" fill="#1ba0c0"/>
<path d="M145.84,408.32 L149.29,402.11 L142.39,402.11Z" fill="#1ba0c0"/>
<path d="M166.68,412.60 L170.13,406.39 L163.23,406.39Z" fill="#1ba0c0"/>
<path d="M187.53,409.56 L190.98,403.35 L184.08,403.35Z" fill="#1ba0c0"/>
<path d="M208.38,394.34 L211.82,388.13 L204.93,388.13Z" fill="#1ba0c0"/>
<path d="M229.22,433.03 L232.67,426.82 L225.77,426.82Z" fill="#1ba0c0"/>
<path d="M250.07,440.52 L253.52,434.31 L246.62,434.31Z" fill="#1ba0c0"/>
<path d="M286.55,412.20 L290.00,405.99 L283.10,405.99Z" fill="#1ba0c0"/>
<path d="M338.66,427.90 L342.11,421.69 L335.21,421.69Z" fill="#1ba0c0"/>
<path d="M57.24,390.73 L59.24,393.93 L57.24,397.13 L55.24,393.93Z" fill="#ff0000"/>
<path d="M67.66,401.39 L69.66,404.59 L67.66,407.79 L65.66,404.59Z" fill="#ff0000"/>
<path d="M78.09,400.92 L80.09,404.12 L78.09,407.32 L76.09,404.12Z" fill="#ff0000"/>
<path d="M88.51,405.55 L90.51,408.75 L88.51,411.95 L86.51,408.75Z" fill="#ff0000"/>
<path d="M98.93,397.96 L100.93,401.16 L98.93,404.36 L96.93,401.16Z" fill="#ff0000"/>
<path d="M109.36,395.72 L111.36,398.92 L109.36,402.12 L107.36,398.92Z" fill="#ff0000"/>
<path d="M124.99,401.20 L126.99,404.40 L124.99,407.60 L122.99,404.40Z" fill="#ff0000"/>
<path d="M145.84,395.28 L147.84,398.48 L145.84,401.68 L143.84,398.48Z" fill="#ff0000"/>
<path d="M166.68,408.16 L168.68,411.36 L166.68,414.56 L164.68,411.36Z" fill="#ff0000"/>
<path d="M187.53,384.21 L189.53,387.41 L187.53,390.61 L185.53,387.41Z" fill="#ff0000"/>
<path d="M208.38,399.98 L210.38,403.18 L208.38,406.38 L206.38,403.18Z" fill="#ff0000"/>
<path d="M229.22,413.53 L231.22,416.73 L229.22,419.93 L227.22,416.73Z" fill="#ff0000"/>
<path d="M250.07,379.23 L252.07,382.43 L250.07,385.63 L248.07,382.43Z" fill="#ff0000"/>
<path d="M286.55,412.24 L288.55,415.44 L286.55,418.64 L284.55,415.44Z" fill="#ff0000"/>
<path d="M338.66,373.56 L340.66,376.76 L338.66,379.96 L336.66,376.76Z" fill="#ff0000"/>
<path d="M57.24,399.75 L60.69,393.54 L53.79,393.54Z" fill="#1ba0c0"/>
<path d="M67.66,398.98 L71.11,392.77 L64.21,392.77Z" fill="#1ba0c0"/>
<path d="M78.09,398.90 L81.54,392.69 L74.64,392.69Z" fill="#1ba0c0"/>
<path d="M88.51,405.07 L91.96,398.86 L85.06,398.86Z" fill="#1ba0c0"/>
<path d="M98.93,407.38 L102.38,401.17 L95.48,401.17Z" fill="#1ba0c0"/>
<path d="M109.36,408.80 L112.81,402.59 L105.91,402.59Z" fill="#1ba0c0"/>
<path d="M124.99,412.69 L128.44,406.48 L121.54,406.48Z" fill="#1ba0c0"/>
<path d="M145.84,416.25 L149.29,410.04 L142.39,410.04Z" fill="#1ba0c0"/>
<path d="M166.68,421.83 L170.13,415.62 L163.23,415.62Z" fill="#1ba0c0"/>
<path d="M187.53,415.53 L190.98,409.32 L184.08,409.32Z" fill="#1ba0c0"/>
<path d="M208.38,433.92 L211.82,427.71 L204.93,427.71Z" fill="#1ba0c0"/>
<path d="M229.22,442.88 L232.67,436.67 L225.77,436.67Z" fill="#1ba0c0"/>
<path d="M250.07,461.50 L253.52,455.29 L246.62,455.29Z" fill="#1ba0c0"/>
<path d="M286.55,418.36 L290.00,412.15 L283.10,412.15Z" fill="#1ba0c0"/>
<path d="M338.66,427.90 L342.11,421.69 L335.21,421.69Z" fill="#1ba0c0"/>
</g>
<path d="M45.5,317.3 L45.5,477.8 L371.3,477.8 L371.3,317.3 Z" fill="none" stroke="#000" stroke-width="1"/>
<line x1="45.2" y1="477.8" x2="371.6" y2="477.8" stroke="#000" stroke-width="1.6"/>
<path d="M45.5,477.51 h5.5 M371.3,477.51 h-5.5 M45.5,458.05 h7.5 M371.3,458.05 h-7.5 M45.5,442.15 h5.5 M371.3,442.15 h-5.5 M45.5,428.70 h5.5 M371.3,428.70 h-5.5 M45.5,417.06 h5.5 M371.3,417.06 h-5.5 M45.5,406.79 h5.5 M371.3,406.79 h-5.5 M45.5,397.60 h7.5 M371.3,397.60 h-7.5 M45.5,389.29 h5.5 M371.3,389.29 h-5.5 M45.5,381.70 h5.5 M371.3,381.70 h-5.5 M45.5,374.72 h5.5 M371.3,374.72 h-5.5 M45.5,368.26 h5.5 M371.3,368.26 h-5.5 M45.5,362.24 h5.5 M371.3,362.24 h-5.5 M45.5,356.61 h5.5 M371.3,356.61 h-5.5 M45.5,351.33 h5.5 M371.3,351.33 h-5.5 M45.5,346.34 h5.5 M371.3,346.34 h-5.5 M45.5,341.63 h5.5 M371.3,341.63 h-5.5 M45.5,337.15 h7.5 M371.3,337.15 h-7.5 M45.5,332.90 h5.5 M371.3,332.90 h-5.5 M45.5,328.84 h5.5 M371.3,328.84 h-5.5 M45.5,324.97 h5.5 M371.3,324.97 h-5.5 M45.5,321.25 h5.5 M371.3,321.25 h-5.5 M45.5,317.69 h5.5 M371.3,317.69 h-5.5" stroke="#000" stroke-width="1" fill="none"/>
<path d="M52.03,317.3 v4.5 M52.03,477.8 v-4.5 M62.45,317.3 v1.2 M62.45,477.8 v-1.2 M72.88,317.3 v2 M72.88,477.8 v-2 M83.30,317.3 v1.2 M83.30,477.8 v-1.2 M93.72,317.3 v2 M93.72,477.8 v-2 M104.15,317.3 v1.2 M104.15,477.8 v-1.2 M114.57,317.3 v2 M114.57,477.8 v-2 M124.99,317.3 v1.2 M124.99,477.8 v-1.2 M135.41,317.3 v2 M135.41,477.8 v-2 M145.84,317.3 v1.2 M145.84,477.8 v-1.2 M156.26,317.3 v4.5 M156.26,477.8 v-4.5 M166.68,317.3 v1.2 M166.68,477.8 v-1.2 M177.11,317.3 v2 M177.11,477.8 v-2 M187.53,317.3 v1.2 M187.53,477.8 v-1.2 M197.95,317.3 v2 M197.95,477.8 v-2 M208.38,317.3 v1.2 M208.38,477.8 v-1.2 M218.80,317.3 v2 M218.80,477.8 v-2 M229.22,317.3 v1.2 M229.22,477.8 v-1.2 M239.64,317.3 v2 M239.64,477.8 v-2 M250.07,317.3 v1.2 M250.07,477.8 v-1.2 M260.49,317.3 v4.5 M260.49,477.8 v-4.5 M270.91,317.3 v1.2 M270.91,477.8 v-1.2 M281.34,317.3 v2 M281.34,477.8 v-2 M291.76,317.3 v1.2 M291.76,477.8 v-1.2 M302.18,317.3 v2 M302.18,477.8 v-2 M312.61,317.3 v1.2 M312.61,477.8 v-1.2 M323.03,317.3 v2 M323.03,477.8 v-2 M333.45,317.3 v1.2 M333.45,477.8 v-1.2 M343.87,317.3 v2 M343.87,477.8 v-2 M354.30,317.3 v1.2 M354.30,477.8 v-1.2 M364.72,317.3 v4.5 M364.72,477.8 v-4.5" stroke="#000" stroke-width="1" fill="none"/>
<text x="38.6" y="341.25" font-size="11" letter-spacing="0.5" text-anchor="end">2</text>
<text x="373.2" y="341.25" font-size="11" letter-spacing="0.5">2</text>
<text x="38.6" y="401.70" font-size="11" letter-spacing="0.5" text-anchor="end">1</text>
<text x="373.2" y="401.70" font-size="11" letter-spacing="0.5">1</text>
<text x="38.6" y="462.15" font-size="11" letter-spacing="0.5" text-anchor="end">0.5</text>
<text x="373.2" y="462.15" font-size="11" letter-spacing="0.5">0.5</text>
<text transform="translate(18.6,429.2) rotate(-90)" font-size="9">Ratio to DELPHI</text>
<text x="52.03" y="488.9" font-size="11" text-anchor="middle">0</text>
<text x="156.26" y="488.9" font-size="11" text-anchor="middle">0.01</text>
<text x="260.49" y="488.9" font-size="11" text-anchor="middle">0.02</text>
<text x="364.72" y="488.9" font-size="11" text-anchor="middle">0.03</text>
<text x="319.3" y="505" font-size="13">D_4</text>
<text x="342.4" y="499.3" font-size="8.3">Durham</text>
</svg></body></html>
